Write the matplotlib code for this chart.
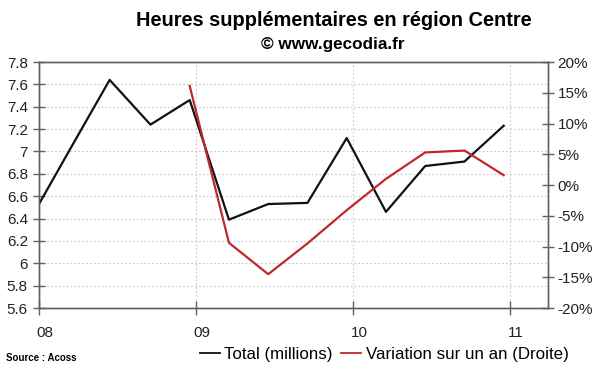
import matplotlib
matplotlib.use('Agg')
import matplotlib.pyplot as plt
import matplotlib.transforms as mtransforms
from matplotlib.lines import Line2D

plt.rcParams['font.family'] = ['Liberation Sans', 'DejaVu Sans']

# Data (x in decimal years)
total_x = [2008.0, 2008.21, 2008.45, 2008.71, 2008.96, 2009.21, 2009.46,
           2009.71, 2009.96, 2010.21, 2010.46, 2010.71, 2010.96]
total_vals = [6.53, 7.05, 7.64, 7.24, 7.46, 6.39, 6.53,
              6.54, 7.12, 6.46, 6.87, 6.91, 7.23]

var_x = [2008.96, 2009.21, 2009.46, 2009.71, 2009.96, 2010.21,
         2010.46, 2010.71, 2010.96]
var_vals = [16.1, -9.4, -14.5, -9.5, -4.1, 1.0, 5.3, 5.6, 1.6]

year_ticks = [2008, 2009, 2010, 2011]
year_labels = ['08', '09', '10', '11']

left_ticks = [5.6, 5.8, 6.0, 6.2, 6.4, 6.6, 6.8, 7.0, 7.2, 7.4, 7.6, 7.8]
right_ticks = [-20, -15, -10, -5, 0, 5, 10, 15, 20]

black = '#111111'
red = '#c0272d'
spine_col = '#606060'
grid_col = '#c8c8c8'
lab_col = '#222222'

fig = plt.figure(figsize=(6, 3.72), dpi=100)
ax = fig.add_axes([0.065, 0.172, 0.8483, 0.6613])
ax2 = ax.twinx()

ax.plot(total_x, total_vals, color=black, lw=1.6, zorder=3)
ax2.plot(var_x, var_vals, color=red, lw=1.6, zorder=3)

ax.set_xlim(2008, 2011.242)
ax.set_ylim(5.6, 7.8)
ax2.set_ylim(-20, 20)

# grid
for v in left_ticks[1:]:
    ax.axhline(v, color=grid_col, lw=0.8, ls=(0, (1.5, 2)), zorder=1)
for y in year_ticks[1:]:
    ax.axvline(y, color=grid_col, lw=0.8, ls=(0, (1.5, 2)), zorder=1)

ax.set_yticks(left_ticks)
ax.set_yticklabels(['%g' % v for v in left_ticks])
ax2.set_yticks(right_ticks)
ax2.set_yticklabels(['%d%%' % v for v in right_ticks])
ax.set_xticks(year_ticks)
ax.set_xticklabels(year_labels)

for a in (ax, ax2):
    for s in a.spines.values():
        s.set_color(spine_col)
        s.set_linewidth(1.0)

ax.tick_params(axis='y', direction='inout', length=8, width=1, color=spine_col,
               labelsize=11, labelcolor=lab_col, pad=4)
ax.tick_params(axis='x', direction='inout', length=10, width=1, color=spine_col,
               labelsize=11, labelcolor=lab_col, pad=8)
ax2.tick_params(axis='y', direction='inout', length=8, width=1, color=spine_col,
                labelsize=11, labelcolor=lab_col, pad=3)

# shift year labels a bit to the right like the original
offset = mtransforms.ScaledTranslation(6 / 100, 0, fig.dpi_scale_trans)
for lab in ax.get_xticklabels():
    lab.set_transform(lab.get_transform() + offset)

fig.text(0.557, 1 - 21 / 372, 'Heures supplémentaires en région Centre',
         ha='center', va='center', fontsize=14.4, fontweight='bold')
fig.text(0.555, 1 - 44 / 372, '© www.gecodia.fr',
         ha='center', va='center', fontsize=12.3, fontweight='bold')

handles = [Line2D([], [], color=black, lw=1.3),
           Line2D([], [], color=red, lw=1.3)]
fig.legend(handles, ['Total (millions)', 'Variation sur un an (Droite)'],
           loc='center', bbox_to_anchor=(0.64, 1 - 354 / 372), ncol=2,
           frameon=False, fontsize=12.2, handlelength=1.2, handletextpad=0.25,
           columnspacing=0.5, borderpad=0)

fig.text(0.01, 1 - 358 / 372, 'Source : Acoss', ha='left', va='center',
         fontsize=7, fontweight='bold')

fig.savefig('out.png', dpi=100)
